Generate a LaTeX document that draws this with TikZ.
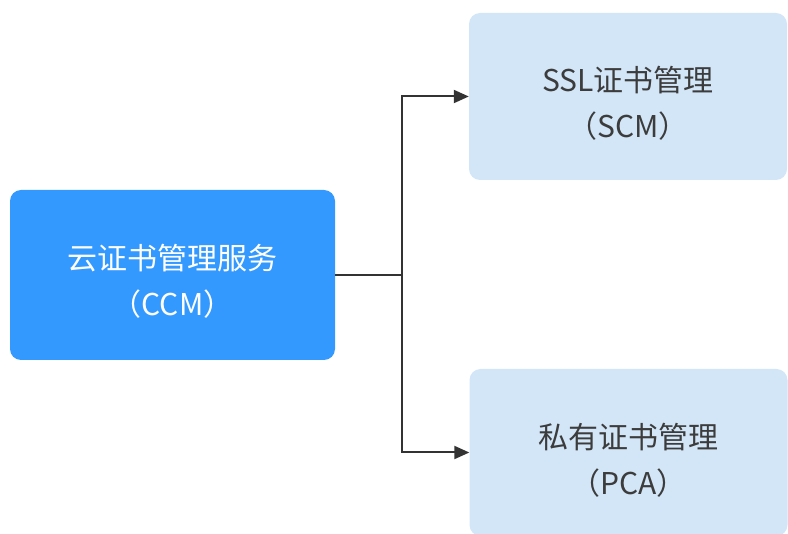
\documentclass[tikz,border=0pt]{standalone}
\usepackage{fontspec}
\setmainfont{Noto Sans CJK SC}
\usetikzlibrary{arrows.meta}
\definecolor{ccmblue}{HTML}{3399FF}
\definecolor{lightbox}{HTML}{D3E6F8}
\definecolor{txtgray}{HTML}{3C3C3C}
\definecolor{linegray}{HTML}{333333}
\tikzset{
  mainbox/.style={fill=ccmblue, draw=none, rounded corners=11pt, inner sep=0pt},
  subbox/.style={fill=lightbox, draw=none, rounded corners=11pt, inner sep=0pt},
  boxtext/.style={align=center, inner sep=0pt, font=\fontsize{30}{46}\selectfont},
  conn/.style={draw=linegray, line width=2pt},
  arr/.style={conn, -{Triangle[length=15pt,width=13pt]}}
}
\begin{document}
\begin{tikzpicture}[x=1pt,y=-1pt]
\useasboundingbox (0,0) rectangle (788,534);
\node[mainbox, minimum width=325pt, minimum height=170pt] (ccm) at (172.5,275) {};
\node[subbox, minimum width=318pt, minimum height=167pt] (scm) at (628,96.5) {};
\node[subbox, minimum width=318pt, minimum height=167pt] (pca) at (628.5,452.5) {};
\node[boxtext, text=white] (ccmt) at (172.5,281) {云证书管理服务\\（CCM）};
\node[boxtext, text=txtgray] (scmt) at (628,103) {SSL证书管理\\（SCM）};
\node[boxtext, text=txtgray] (pcat) at (628.5,460) {私有证书管理\\（PCA）};
\coordinate (j) at (402,275);
\draw[conn] (ccm.east) -- (j);
\draw[arr] (j) |- (scm.west);
\draw[arr] (j) |- (pca.west);
\end{tikzpicture}
\end{document}
